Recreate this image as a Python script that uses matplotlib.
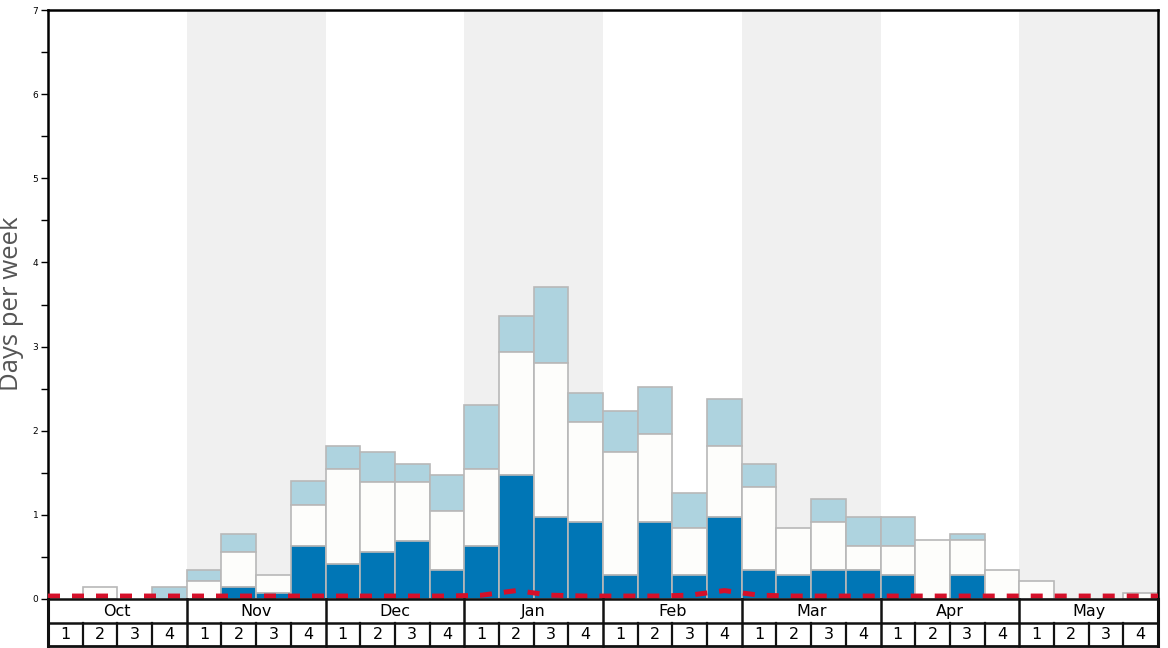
import matplotlib
matplotlib.use("Agg")
import matplotlib.pyplot as plt
import numpy as np

months = ["Oct", "Nov", "Dec", "Jan", "Feb", "Mar", "Apr", "May"]
week_labels = ["1", "2", "3", "4"]

# cumulative levels per week (Oct wk1 .. May wk4)
dark = [0, 0, 0, 0,
        0, 0.14, 0.07, 0.63,
        0.42, 0.56, 0.69, 0.35,
        0.63, 1.47, 0.98, 0.91,
        0.28, 0.91, 0.28, 0.98,
        0.35, 0.28, 0.35, 0.35,
        0.28, 0, 0.28, 0,
        0, 0, 0, 0]
mid = [0, 0.14, 0, 0,
       0.21, 0.56, 0.28, 1.12,
       1.54, 1.39, 1.39, 1.05,
       1.54, 2.94, 2.80, 2.10,
       1.75, 1.96, 0.84, 1.82,
       1.33, 0.84, 0.91, 0.63,
       0.63, 0.70, 0.70, 0.35,
       0.21, 0, 0, 0.07]
total = [0, 0.14, 0, 0.14,
         0.35, 0.77, 0.28, 1.40,
         1.82, 1.75, 1.61, 1.47,
         2.31, 3.36, 3.71, 2.45,
         2.24, 2.52, 1.26, 2.38,
         1.61, 0.84, 1.19, 0.98,
         0.98, 0.70, 0.77, 0.35,
         0.21, 0, 0, 0.07]
red = [0.035, 0.035, 0.035, 0.035,
       0.035, 0.035, 0.035, 0.035,
       0.035, 0.035, 0.035, 0.035,
       0.045, 0.10, 0.045, 0.035,
       0.035, 0.035, 0.045, 0.10,
       0.045, 0.035, 0.035, 0.035,
       0.035, 0.035, 0.035, 0.035,
       0.035, 0.035, 0.035, 0.035]

W, H = 1168, 648
fig = plt.figure(figsize=(W / 100, H / 100), dpi=100)
ax = fig.add_axes([48 / W, (H - 599) / H, 1110 / W, 589 / H])
tax = fig.add_axes([48 / W, (H - 646) / H, 1110 / W, 47 / H])

n = len(total)
x = np.arange(n) + 0.5
dark_a = np.array(dark)
mid_a = np.array(mid)
tot_a = np.array(total)

# month shading
for i, m in enumerate(months):
    if i % 2 == 1:
        ax.axvspan(i * 4, i * 4 + 4, color="#f0f0f0", zorder=0, lw=0)

edge = "#b8b8b8"
kw = dict(width=1.0, edgecolor=edge, linewidth=1.2, zorder=2)
for i in range(n):
    if tot_a[i] > mid_a[i]:
        ax.bar(x[i], tot_a[i] - mid_a[i], bottom=mid_a[i], color="#aed3df", **kw)
    if mid_a[i] > dark_a[i]:
        ax.bar(x[i], mid_a[i] - dark_a[i], bottom=dark_a[i], color="#fdfdfb", **kw)
    if dark_a[i] > 0:
        ax.bar(x[i], dark_a[i], bottom=0, color="#0076b6", **kw)

rx = np.concatenate([[0], x, [n]])
ry = np.concatenate([[red[0]], red, [red[-1]]])
ax.plot(rx, ry, color="#d5102a", lw=3.6, dashes=(2.4, 2.4), zorder=4,
        solid_capstyle="butt", dash_capstyle="butt")

ax.set_xlim(0, n)
ax.set_ylim(0, 7)
ax.set_xticks([])
ax.set_yticks(range(8))
ax.set_yticks(np.arange(0.5, 7, 1), minor=True)
ax.tick_params(axis="y", which="both", length=5, width=1, labelsize=6.5, pad=2)
for s in ["top", "right", "left"]:
    ax.spines[s].set_linewidth(1.8)
ax.spines["bottom"].set_visible(False)

# table of months / weeks
tax.set_xlim(0, n)
tax.set_ylim(0, 2)
tax.axis("off")
lc = "#111111"
tax.plot([0, n], [2, 2], color=lc, lw=1.8, clip_on=False)
tax.plot([0, n], [1, 1], color=lc, lw=1.8, clip_on=False)
tax.plot([0, n], [0.02, 0.02], color=lc, lw=2.0, clip_on=False)
for i, m in enumerate(months):
    tax.text(i * 4 + 2, 1.48, m, ha="center", va="center", fontsize=11.5)
    for j, wl in enumerate(week_labels):
        tax.text(i * 4 + j + 0.5, 0.47, wl, ha="center", va="center", fontsize=11.5)
for k in range(n + 1):
    if k % 4 == 0:
        tax.plot([k, k], [0.02, 2], color=lc, lw=1.8 if 0 < k < n else 2.2, clip_on=False)
    else:
        tax.plot([k, k], [0.02, 1], color=lc, lw=1.6, clip_on=False)

fig.text(12 / W, 1 - 304 / H, "Days per week", rotation=90, ha="center", va="center",
         fontsize=18.5, color="#555555", family=["Open Sans", "DejaVu Sans"])

fig.savefig("out.png", dpi=100)
